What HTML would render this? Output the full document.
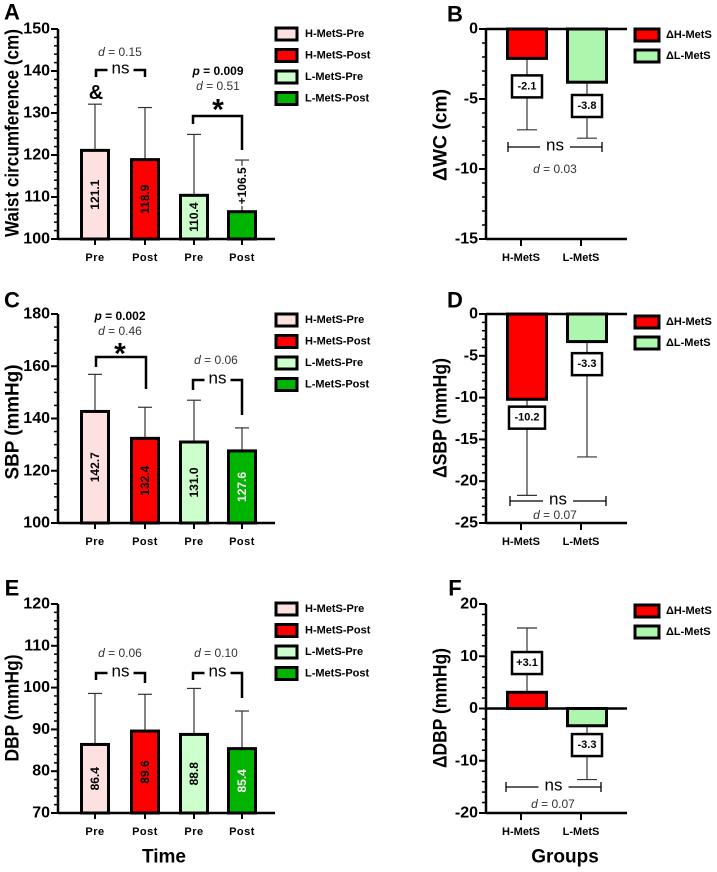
<!DOCTYPE html>
<html><head><meta charset="utf-8"><style>
body{margin:0;background:#fff;}
svg{display:block;font-family:"Liberation Sans",Arial,sans-serif;}
</style></head><body>
<svg id="fig" width="717" height="872" viewBox="0 0 717 872"></svg>
<script>
const leftCats=["Pre","Post","Pre","Post"];
const legendLeft=["H-MetS-Pre","H-MetS-Post","L-MetS-Pre","L-MetS-Post"];
const aValues=[121.1,118.9,110.4,106.5];
const aSD=[132.1,131.3,124.9,118.8];
const aLabels=["121.1","118.9","110.4","+106.5"];
const cValues=[142.7,132.4,131.0,127.6];
const cSD=[156.9,144.3,147.0,136.4];
const cLabels=["142.7","132.4","131.0","127.6"];
const eValues=[86.4,89.6,88.8,85.4];
const eSD=[98.6,98.4,99.8,94.4];
const eLabels=["86.4","89.6","88.8","85.4"];
const rightCats=["H-MetS","L-MetS"];
const legendRight=["\u0394H-MetS","\u0394L-MetS"];
const bValues=[-2.1,-3.8];
const bErr=[-7.2,-7.8];
const bLabels=["-2.1","-3.8"];
const bBoxAt=[-4.1,-5.5];
const dValues=[-10.2,-3.3];
const dErr=[-21.7,-17.1];
const dLabels=["-10.2","-3.3"];
const dBoxAt=[-12.4,-6.0];
const fValues=[3.1,-3.3];
const fErr=[15.4,-13.6];
const fLabels=["+3.1","-3.3"];
const fBoxAt=[8.7,-7.0];

const NS="http://www.w3.org/2000/svg";
const svg=document.getElementById('fig');
function el(tag,attrs,parent,text){const e=document.createElementNS(NS,tag);for(const k in attrs)e.setAttribute(k,attrs[k]);if(text!==undefined)e.textContent=text;(parent||svg).appendChild(e);return e;}
const leftColors=["#fde0e0","#ff0000","#ccffcc","#00b400"];
const rightColors=["#ff0000","#aef5ae"];

function yScale(y0,y1,min,max){return v=>y1-(v-min)/(max-min)*(y1-y0);}

function leftPanel(id,y0,y1,min,max,major,minor,values,sd,labels,labelWhite,legendY,title,titleCy,titleLen){
  const g=el('g',{});
  
  
  const y=yScale(y0,y1,min,max);
  const ax=58, xEnd=275, centers=[95,145,194,242], bw=27;
  for(let i=0;i<values.length;i++){
    const cx=centers[i];
    const eb=el('g',{},g);
    
    
    el('line',{x1:cx,x2:cx,y1:y(values[i]),y2:y(sd[i]),stroke:'#333','stroke-width':1.2},eb);
    el('line',{x1:cx-7,x2:cx+7,y1:y(sd[i]),y2:y(sd[i]),stroke:'#333','stroke-width':1.2},eb);
    const r=el('rect',{x:cx-bw/2,y:y(values[i]),width:bw,height:y(min)-y(values[i]),fill:leftColors[i],stroke:'#000','stroke-width':3},g);
    
    
    let ly=(y(values[i])+y(min))/2;
    const above=labels[i].startsWith('+');
    if(above){ly=(y(values[i])+y(sd[i]))/2;el('rect',{x:cx-6,y:ly-20,width:12,height:40,fill:'#fff'},g);}
    const t=el('text',{x:cx,y:ly,transform:`rotate(-90 ${cx} ${ly})`,'text-anchor':'middle','dominant-baseline':'central','font-size':12,'font-weight':'bold',fill:(labelWhite&&i===3)?'#fff':'#000'},g,labels[i]);
    
    
    const xt=el('text',{x:cx,y:y1+22,'text-anchor':'middle','font-size':11,'font-weight':'bold','letter-spacing':'0.5'},g,leftCats[i]);
    
    
    el('line',{x1:cx,x2:cx,y1:y1,y2:y1+6,stroke:'#000','stroke-width':2},g);
  }
  for(let v=min;v<=max+1e-9;v+=minor){el('line',{x1:ax-4,x2:ax,y1:y(v),y2:y(v),stroke:'#000','stroke-width':1.5},g);}
  for(let v=min;v<=max+1e-9;v+=major){
    el('line',{x1:ax-7,x2:ax,y1:y(v),y2:y(v),stroke:'#000','stroke-width':2},g);
    const t=el('text',{x:ax-8,y:y(v),'text-anchor':'end','dominant-baseline':'central','font-size':16,'font-weight':'bold'},g,String(v));
    
    
  }
  el('line',{x1:ax,x2:ax,y1:y0,y2:y1+1,stroke:'#000','stroke-width':2.5},g);
  el('line',{x1:ax,x2:xEnd,y1:y1,y2:y1,stroke:'#000','stroke-width':2.5},g);
  const tx=13;
  const tt=el('text',{x:tx,y:titleCy,transform:`rotate(-90 ${tx} ${titleCy})`,'text-anchor':'middle','dominant-baseline':'central','font-size':19,'font-weight':'bold',textLength:titleLen,lengthAdjust:'spacingAndGlyphs'},g,title);
  
  
  for(let i=0;i<4;i++){
    const ly=legendY+i*21.5;
    const lg=el('g',{},g);
    
    
    el('rect',{x:276,y:ly-6,width:21,height:12,fill:leftColors[i],stroke:'#000','stroke-width':3},lg);
    el('text',{x:305,y:ly,'dominant-baseline':'central','font-size':11,'font-weight':'bold'},lg,legendLeft[i]);
  }
  return y;
}

function rightPanel(id,y0,y1,min,max,major,minor,values,err,labels,boxAt,legendY,title,titleCy,titleLen){
  const g=el('g',{});
  
  
  const y=yScale(y0,y1,min,max);
  const ax=486, xEnd=627, centers=[527,587], bw=39;
  for(let i=0;i<2;i++){
    const cx=centers[i];
    const eb=el('g',{},g);
    
    
    el('line',{x1:cx,x2:cx,y1:y(values[i]),y2:y(err[i]),stroke:'#333','stroke-width':1.2},eb);
    el('line',{x1:cx-10,x2:cx+10,y1:y(err[i]),y2:y(err[i]),stroke:'#333','stroke-width':1.2},eb);
    const top=Math.min(y(0),y(values[i]));
    const r=el('rect',{x:cx-bw/2,y:top,width:bw,height:Math.abs(y(values[i])-y(0)),fill:rightColors[i],stroke:'#000','stroke-width':3},g);
    
    
    const w=labels[i].length>4?36:30;
    const by=y(boxAt[i]);
    const bx=el('g',{},g);
    
    
    el('rect',{x:cx-w/2,y:by-11,width:w,height:22,fill:'#fff',stroke:'#000','stroke-width':2.5},bx);
    el('text',{x:cx,y:by,'text-anchor':'middle','dominant-baseline':'central','font-size':11,'font-weight':'bold'},bx,labels[i]);
    const xt=el('text',{x:cx-6,y:y1+22,'text-anchor':'middle','font-size':11,'font-weight':'bold'},g,rightCats[i]);
    
    
    el('line',{x1:cx-6,x2:cx-6,y1:y1,y2:y1+7,stroke:'#000','stroke-width':2},g);
  }
  for(let v=min;v<=max+1e-9;v+=minor){el('line',{x1:ax-4,x2:ax,y1:y(v),y2:y(v),stroke:'#000','stroke-width':1.5},g);}
  for(let v=min;v<=max+1e-9;v+=major){
    el('line',{x1:ax-7,x2:ax,y1:y(v),y2:y(v),stroke:'#000','stroke-width':2},g);
    const t=el('text',{x:ax-8,y:y(v),'text-anchor':'end','dominant-baseline':'central','font-size':16,'font-weight':'bold'},g,String(v));
    
    
  }
  el('line',{x1:ax,x2:ax,y1:y0,y2:y1+1,stroke:'#000','stroke-width':2.5},g);
  el('line',{x1:ax,x2:xEnd,y1:y(0),y2:y(0),stroke:'#000','stroke-width':2.5},g);
  if(min<0&&max>0||max===0) el('line',{x1:ax,x2:xEnd,y1:y1,y2:y1,stroke:'#000','stroke-width':2.5},g);
  const tx=441;
  const tt=el('text',{x:tx,y:titleCy,transform:`rotate(-90 ${tx} ${titleCy})`,'text-anchor':'middle','dominant-baseline':'central','font-size':19,'font-weight':'bold',textLength:titleLen,lengthAdjust:'spacingAndGlyphs'},g,title);
  
  
  for(let i=0;i<2;i++){
    const ly=legendY+i*21;
    const lg=el('g',{},g);
    
    
    el('rect',{x:635,y:ly-6,width:24,height:12,fill:rightColors[i],stroke:'#000','stroke-width':3},lg);
    el('text',{x:666,y:ly,'dominant-baseline':'central','font-size':11,'font-weight':'bold'},lg,legendRight[i]);
  }
  return y;
}

function txt(x,y,s,size,opts,name){
  const t=el('text',Object.assign({x:x,y:y,'text-anchor':'middle','dominant-baseline':'central','font-size':size},opts||{}));
  t.textContent=s;
  
  
  return t;
}
function dtext(x,y,val,name){
  const t=el('text',{x:x,y:y,'text-anchor':'middle','dominant-baseline':'central','font-size':12,fill:'#333'});
  el('tspan',{'font-style':'italic'},t,'d');
  el('tspan',{},t,' = '+val);
  
  
}
function ptext(x,y,val,name){
  const t=el('text',{x:x,y:y,'text-anchor':'middle','dominant-baseline':'central','font-size':12,'font-weight':'bold'});
  el('tspan',{'font-style':'italic'},t,'p');
  el('tspan',{},t,' = '+val);
  
  
}
function bracket(x1,x2,y,l,r,withNs,name){
  const g=el('g',{});
  
  
  if(withNs){
    const m=(x1+x2)/2;
    el('path',{d:`M${x1} ${l} V${y} H${m-13} M${m+13} ${y} H${x2} V${r}`,fill:'none',stroke:'#000','stroke-width':2.5},g);
    el('text',{x:m,y:y-2,'text-anchor':'middle','dominant-baseline':'central','font-size':17},g,'ns');
  } else {
    el('path',{d:`M${x1} ${l} V${y} H${x2} V${r}`,fill:'none',stroke:'#000','stroke-width':2.5},g);
  }
}
function hns(x1,x2,y,name){
  const g=el('g',{});
  
  
  const m=(x1+x2)/2;
  el('path',{d:`M${x1} ${y-5} V${y+5} M${x1} ${y} H${m-15} M${m+15} ${y} H${x2} M${x2} ${y-5} V${y+5}`,fill:'none',stroke:'#000','stroke-width':1.3},g);
  el('text',{x:m,y:y-2,'text-anchor':'middle','dominant-baseline':'central','font-size':17},g,'ns');
}

txt(12,12,'A',22,{'font-weight':'bold'},'panel-label-a');
txt(455,14,'B',22,{'font-weight':'bold'},'panel-label-b');
txt(12,300,'C',22,{'font-weight':'bold'},'panel-label-c');
txt(455,300,'D',22,{'font-weight':'bold'},'panel-label-d');
txt(12,588,'E',22,{'font-weight':'bold'},'panel-label-e');
txt(455,588,'F',22,{'font-weight':'bold'},'panel-label-f');

leftPanel('a',29,239,100,150,10,2,aValues,aSD,aLabels,false,34,'Waist circumference (cm)',133,208);
leftPanel('c',314,523,100,180,20,5,cValues,cSD,cLabels,true,320,'SBP (mmHg)',422,115);
leftPanel('e',604,813,70,120,10,2,eValues,eSD,eLabels,true,609,'DBP (mmHg)',708,107);
rightPanel('b',29,239,-15,0,5,1,bValues,bErr,bLabels,bBoxAt,35,'\u0394WC (cm)',135,92);
rightPanel('d',314,523,-25,0,5,1,dValues,dErr,dLabels,dBoxAt,322,'\u0394SBP (mmHg)',418,120);
rightPanel('f',604,813,-20,20,10,2,fValues,fErr,fLabels,fBoxAt,611,'\u0394DBP (mmHg)',708,120);

dtext(120,52,'0.15','effect-size-a1');
bracket(96,145,70,77,77,true,'ns-bracket-a');
txt(96,93,'&',20,{'font-weight':'bold'},'ampersand-marker');
ptext(218,71,'0.009','p-value-a');
dtext(218,86,'0.51','effect-size-a2');
txt(218,110,'*',30,{'font-weight':'bold'},'significance-star-a');
bracket(193,242,116,124,150,false,'sig-bracket-a');
ptext(120,316,'0.002','p-value-c');
dtext(120,331,'0.46','effect-size-c1');
txt(120,354,'*',30,{'font-weight':'bold'},'significance-star-c');
bracket(96,146,357,367,389,false,'sig-bracket-c');
dtext(216,360,'0.06','effect-size-c2');
bracket(193,242,380,390,415,true,'ns-bracket-c');
dtext(120,653,'0.06','effect-size-e1');
bracket(96,145,673,680,683,true,'ns-bracket-e1');
dtext(216,653,'0.10','effect-size-e2');
bracket(193,242,673,680,698,true,'ns-bracket-e2');
hns(508,602,147,'ns-comparison-b');
dtext(555,169,'0.03','effect-size-b');
hns(510,606,501,'ns-comparison-d');
dtext(555,515,'0.07','effect-size-d');
hns(506,601,787,'ns-comparison-f');
dtext(553,804,'0.07','effect-size-f');
txt(164,857,'Time',19,{'font-weight':'bold'},'x-axis-title-time');
txt(565,857,'Groups',19,{'font-weight':'bold'},'x-axis-title-groups');
</script>
</body></html>
